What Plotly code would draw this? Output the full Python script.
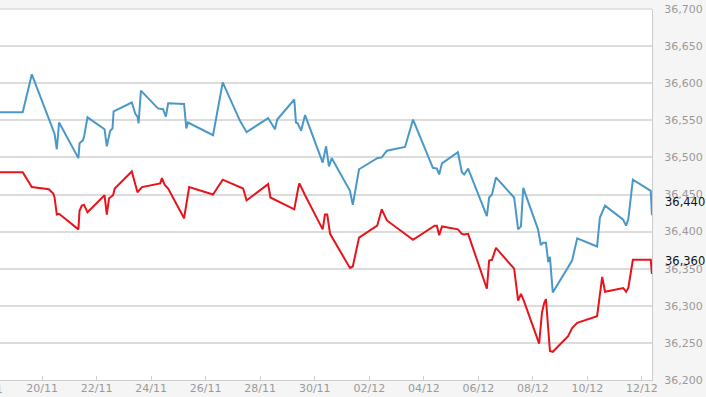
import plotly.graph_objects as go

blue_t = ["2023-11-18 11:00", "2023-11-19 07:00", "2023-11-19 15:00", "2023-11-20 07:00", "2023-11-20 10:00",
          "2023-11-20 11:00", "2023-11-20 13:00", "2023-11-20 15:00", "2023-11-21 08:00", "2023-11-21 09:00",
          "2023-11-21 12:00", "2023-11-21 13:00", "2023-11-21 16:00", "2023-11-22 07:00", "2023-11-22 09:00",
          "2023-11-22 12:00", "2023-11-22 14:00", "2023-11-22 15:00", "2023-11-23 07:00", "2023-11-23 10:00",
          "2023-11-23 12:00", "2023-11-23 13:00", "2023-11-23 15:00", "2023-11-24 06:00", "2023-11-24 10:30",
          "2023-11-24 13:00", "2023-11-24 15:00", "2023-11-25 05:00", "2023-11-25 07:00", "2023-11-25 08:30",
          "2023-11-26 06:30", "2023-11-26 15:00", "2023-11-27 06:00", "2023-11-27 12:00", "2023-11-28 07:00",
          "2023-11-28 13:00", "2023-11-28 15:00", "2023-11-29 06:00", "2023-11-29 07:30", "2023-11-29 09:00",
          "2023-11-29 12:00", "2023-11-29 15:30", "2023-11-30 07:00", "2023-11-30 10:00", "2023-11-30 12:30",
          "2023-11-30 15:00", "2023-12-01 07:00", "2023-12-01 09:30", "2023-12-01 15:00", "2023-12-02 07:00",
          "2023-12-02 11:00", "2023-12-02 15:30", "2023-12-03 07:30", "2023-12-03 14:30", "2023-12-04 08:00",
          "2023-12-04 11:30", "2023-12-04 13:30", "2023-12-04 16:00", "2023-12-05 06:00", "2023-12-05 09:30",
          "2023-12-05 11:30", "2023-12-05 15:00", "2023-12-06 07:30", "2023-12-06 09:30", "2023-12-06 12:00",
          "2023-12-06 15:30", "2023-12-07 07:30", "2023-12-07 11:00", "2023-12-07 13:30", "2023-12-07 15:30",
          "2023-12-08 04:30", "2023-12-08 07:00", "2023-12-08 09:00", "2023-12-08 11:30", "2023-12-08 13:30",
          "2023-12-08 15:00", "2023-12-08 17:30", "2023-12-09 08:30", "2023-12-09 10:30", "2023-12-09 15:00",
          "2023-12-10 08:30", "2023-12-10 11:00", "2023-12-10 15:30", "2023-12-11 07:30", "2023-12-11 10:00",
          "2023-12-11 12:00", "2023-12-11 16:00", "2023-12-12 07:45", "2023-12-12 08:45"]
blue_v = [36561, 36561, 36612, 36547, 36535,
          36532, 36511, 36547, 36499, 36519,
          36523, 36528, 36554, 36538, 36515,
          36536, 36539, 36562, 36574, 36559,
          36555, 36546, 36590, 36566, 36565,
          36555, 36573, 36572, 36539, 36547,
          36530, 36601, 36550, 36534, 36553,
          36538, 36551, 36578, 36547, 36546,
          36536, 36557, 36493, 36515, 36488,
          36499, 36455, 36436, 36484, 36499,
          36500, 36509, 36514, 36551, 36486,
          36485, 36477, 36492, 36507, 36480,
          36477, 36485, 36421, 36446, 36450,
          36473, 36446, 36403, 36407, 36459,
          36403, 36382, 36385, 36385, 36359,
          36366, 36318, 36357, 36361, 36391,
          36380, 36419, 36435, 36416, 36408,
          36417, 36470, 36455, 36422]

red_t = ["2023-11-18 11:00", "2023-11-19 07:00", "2023-11-19 15:00", "2023-11-20 06:00", "2023-11-20 10:00",
         "2023-11-20 11:00", "2023-11-20 13:00", "2023-11-20 15:00", "2023-11-21 08:00", "2023-11-21 09:00",
         "2023-11-21 11:00", "2023-11-21 13:00", "2023-11-21 16:00", "2023-11-22 07:00", "2023-11-22 09:00",
         "2023-11-22 11:00", "2023-11-22 14:30", "2023-11-22 16:00", "2023-11-23 07:00", "2023-11-23 12:00",
         "2023-11-23 16:00", "2023-11-24 08:00", "2023-11-24 09:30", "2023-11-24 12:00", "2023-11-24 15:00",
         "2023-11-25 05:00", "2023-11-25 09:30", "2023-11-26 06:30", "2023-11-26 15:00", "2023-11-27 06:00",
         "2023-11-27 09:00", "2023-11-27 12:00", "2023-11-28 07:00", "2023-11-28 09:00", "2023-11-29 06:00",
         "2023-11-29 09:30", "2023-11-29 10:30", "2023-11-29 15:30", "2023-11-30 07:00", "2023-11-30 09:00",
         "2023-11-30 11:00", "2023-11-30 13:30", "2023-12-01 07:00", "2023-12-01 09:30", "2023-12-01 15:00",
         "2023-12-02 07:00", "2023-12-02 11:00", "2023-12-02 15:30", "2023-12-03 14:30", "2023-12-04 09:30",
         "2023-12-04 11:30", "2023-12-04 13:30", "2023-12-04 16:00", "2023-12-05 06:00", "2023-12-05 09:30",
         "2023-12-05 11:30", "2023-12-05 15:00", "2023-12-06 07:30", "2023-12-06 09:30", "2023-12-06 12:00",
         "2023-12-06 15:30", "2023-12-07 07:30", "2023-12-07 11:00", "2023-12-07 13:30", "2023-12-07 16:00",
         "2023-12-08 05:30", "2023-12-08 08:00", "2023-12-08 10:00", "2023-12-08 11:30", "2023-12-08 15:00",
         "2023-12-08 17:30", "2023-12-09 07:00", "2023-12-09 10:30", "2023-12-09 15:00", "2023-12-10 08:30",
         "2023-12-10 13:00", "2023-12-10 15:30", "2023-12-11 07:30", "2023-12-11 10:00", "2023-12-11 12:00",
         "2023-12-11 16:00", "2023-12-12 07:45", "2023-12-12 08:45"]
red_v = [36480, 36480, 36460, 36457, 36451,
         36446, 36423, 36424, 36403, 36428,
         36435, 36436, 36426, 36449, 36423,
         36445, 36449, 36458, 36481, 36453,
         36460, 36465, 36472, 36463, 36458,
         36418, 36460, 36450, 36470, 36460,
         36458, 36442, 36464, 36446, 36430,
         36459, 36465, 36449, 36403, 36423,
         36423, 36397, 36351, 36353, 36392,
         36408, 36430, 36415, 36389, 36408,
         36408, 36395, 36407, 36403, 36397,
         36396, 36397, 36323, 36361, 36362,
         36378, 36350, 36307, 36316, 36307,
         36249, 36291, 36304, 36309, 36239,
         36238, 36259, 36270, 36277, 36286,
         36339, 36319, 36324, 36319, 36324,
         36362, 36362, 36343]

x_ticks = ["2023-11-20", "2023-11-22", "2023-11-24", "2023-11-26", "2023-11-28", "2023-11-30",
           "2023-12-02", "2023-12-04", "2023-12-06", "2023-12-08", "2023-12-10", "2023-12-12"]
x_labels = ["20/11", "22/11", "24/11", "26/11", "28/11", "30/11",
            "02/12", "04/12", "06/12", "08/12", "10/12", "12/12"]
y_ticks = [36200, 36250, 36300, 36350, 36400, 36450, 36500, 36550, 36600, 36650, 36700]
y_labels = ["36,200", "36,250", "36,300", "36,350", "36,400", "36,450", "36,500", "36,550", "36,600", "36,650", "36,700"]
last_labels = [(36440, "36,440"), (36360, "36,360")]

fig = go.Figure()
fig.add_trace(go.Scatter(x=blue_t, y=blue_v, mode="lines", line=dict(color="#4a98c8", width=2), showlegend=False))
fig.add_trace(go.Scatter(x=red_t, y=red_v, mode="lines", line=dict(color="#e8141c", width=2), showlegend=False))

gray_font = dict(family="DejaVu Sans", size=11, color="#9a9a9a")
fig.update_layout(
    width=706, height=397,
    margin=dict(l=0, r=54, t=9, b=17),
    paper_bgcolor="#f5f5f5", plot_bgcolor="#ffffff",
    xaxis=dict(range=["2023-11-18 11:00", "2023-12-12 08:50"], tickvals=x_ticks, ticktext=x_labels,
               showgrid=False, ticks="inside", ticklen=4, tickcolor="#d0d0d0", automargin=False,
               ticklabelstandoff=-2,
               showline=True, linecolor="#cccccc", linewidth=1, tickfont=gray_font, zeroline=False),
    yaxis=dict(range=[36200, 36700], side="right", tickvals=y_ticks, ticktext=y_labels,
               showgrid=True, gridcolor="#dcdcdc", gridwidth=1.5, ticks="", tickfont=gray_font,
               ticklabelstandoff=9, showline=True, linecolor="#cccccc", linewidth=1, mirror=False,
               zeroline=False, automargin=False),
)
fig.add_shape(type="line", xref="paper", yref="paper", x0=0, x1=1, y0=1, y1=1,
              line=dict(color="#dcdcdc", width=1.5))
for val, txt in last_labels:
    fig.add_annotation(x=1, xref="paper", xanchor="left", xshift=11, y=val, yref="y",
                       text=txt, showarrow=False, font=dict(family="DejaVu Sans", size=11.5, color="#111111"))
fig.add_annotation(x=0, xref="paper", xanchor="right", xshift=5, y=0, yref="paper", yanchor="top", yshift=-1,
                   text="18/11", showarrow=False, font=gray_font)

fig.write_html("out.html", config={"displayModeBar": False},
               post_script="document.body.style.margin='0';document.body.style.overflow='hidden';")
